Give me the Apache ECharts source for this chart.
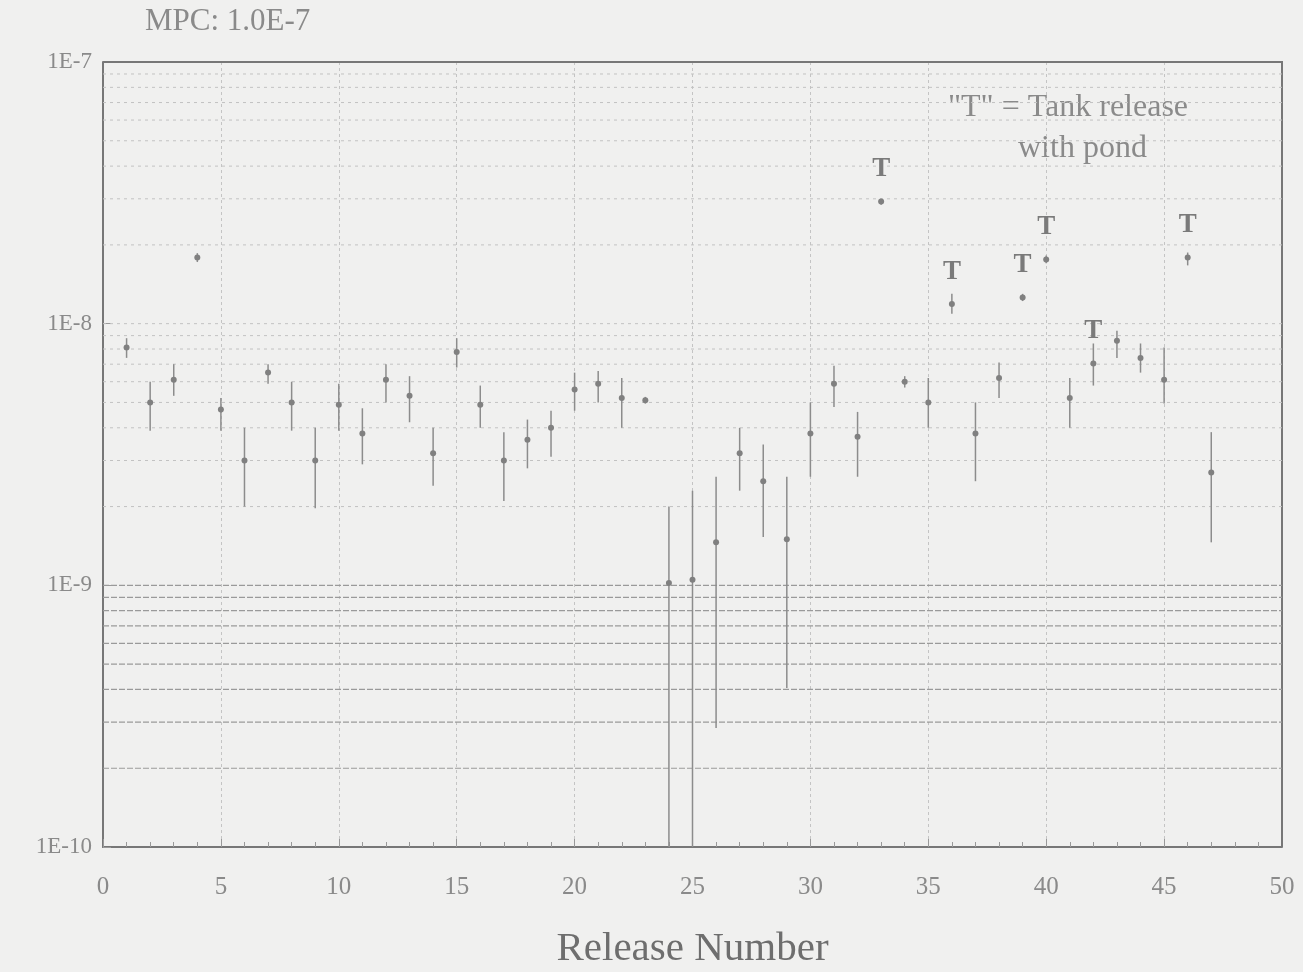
<!DOCTYPE html>
<html><head><meta charset="utf-8">
<script src="https://cdn.jsdelivr.net/npm/echarts@6/dist/echarts.min.js"></script>
<style>html,body{margin:0;padding:0;background:#f0f0ef;}#c{width:1303px;height:972px;}</style>
</head><body><div id="c"></div>
<script>
// ---- data ----
const releases = [1,2,3,4,5,6,7,8,9,10,11,12,13,14,15,16,17,18,19,20,21,22,23,24,25,26,27,28,29,30,31,32,33,34,35,36,37,38,39,40,41,42,43,44,45,46,47];
const values = [8.1e-9,5.0e-9,6.1e-9,1.79e-8,4.7e-9,3.0e-9,6.5e-9,5.0e-9,3.0e-9,4.9e-9,3.8e-9,6.1e-9,5.3e-9,3.2e-9,7.8e-9,4.9e-9,3.0e-9,3.6e-9,4.0e-9,5.6e-9,5.9e-9,5.2e-9,5.1e-9,1.02e-9,1.05e-9,1.46e-9,3.2e-9,2.5e-9,1.5e-9,3.8e-9,5.9e-9,3.7e-9,2.93e-8,6.0e-9,5.0e-9,1.19e-8,3.8e-9,6.2e-9,1.26e-8,1.76e-8,5.2e-9,7.05e-9,8.6e-9,7.4e-9,6.1e-9,1.79e-8,2.7e-9];
const lowErr = [7.4e-9,3.9e-9,5.3e-9,1.72e-8,3.9e-9,2.0e-9,5.9e-9,3.9e-9,1.97e-9,3.9e-9,2.9e-9,5.0e-9,4.2e-9,2.4e-9,6.8e-9,4.0e-9,2.1e-9,2.8e-9,3.1e-9,4.65e-9,5.0e-9,4.0e-9,4.95e-9,1e-10,1e-10,2.85e-10,2.3e-9,1.53e-9,4.05e-10,2.6e-9,4.8e-9,2.6e-9,2.85e-8,5.7e-9,4.0e-9,1.09e-8,2.5e-9,5.2e-9,1.22e-8,1.7e-8,4.0e-9,5.8e-9,7.4e-9,6.5e-9,4.95e-9,1.67e-8,1.46e-9];
const highErr = [8.8e-9,6.0e-9,7.0e-9,1.86e-8,5.2e-9,4.0e-9,7.0e-9,6.0e-9,4.0e-9,5.9e-9,4.75e-9,7.0e-9,6.3e-9,4.0e-9,8.8e-9,5.8e-9,3.85e-9,4.3e-9,4.65e-9,6.5e-9,6.6e-9,6.2e-9,5.25e-9,2.0e-9,2.3e-9,2.6e-9,4.0e-9,3.45e-9,2.6e-9,5.0e-9,6.9e-9,4.6e-9,3.0e-8,6.3e-9,6.2e-9,1.3e-8,5.0e-9,7.1e-9,1.3e-8,1.82e-8,6.2e-9,8.4e-9,9.4e-9,8.4e-9,8.1e-9,1.87e-8,3.85e-9];
const tankReleases = [33,36,39,40,42,46];
const xTicks = [0,5,10,15,20,25,30,35,40,45,50];
const yTickLabels = {'-7':'1E-7','-8':'1E-8','-9':'1E-9','-10':'1E-10'};

// horizontal grid values (decade subdivisions)
const hGrid = [];
for (let e = -10; e <= -8; e++) for (let m = 1; m <= 9; m++) { if (e === -10 && m === 1) continue; hGrid.push([m, e]); }

const serif = '"Liberation Serif","DejaVu Serif",serif';
const chart = echarts.init(document.getElementById('c'));
const errData = releases.map((r,i)=>[r, values[i], lowErr[i], highErr[i], tankReleases.indexOf(r)>=0?1:0]);

chart.setOption({
  backgroundColor: '#f0f0ef',
  animation: false,
  grid: {left:103, right:21, top:62, bottom:125, containLabel:false, outerBoundsMode:'none'},
  graphic: [
    {type:'text', left:145, top:6, style:{text:'MPC: 1.0E-7', font:'31px '+serif, fill:'#8a8a8a'}},
    {type:'text', left:948, top:92, style:{text:'"T" = Tank release', font:'32px '+serif, fill:'#8a8a8a'}},
    {type:'text', left:1018, top:133, style:{text:'with pond', font:'32px '+serif, fill:'#8a8a8a'}}
  ],
  xAxis: {
    type:'value', min:0, max:50, interval:5,
    name:'Release Number', nameLocation:'middle', nameGap:82,
    nameTextStyle:{fontFamily:serif, fontSize:41, color:'#6e6e6e'},
    axisLine:{show:true, onZero:false, lineStyle:{color:'#777', width:2}},
    axisTick:{show:true, inside:true, length:8, lineStyle:{color:'#999'}},
    minorTick:{show:true, splitNumber:5, length:5, lineStyle:{color:'#999'}},
    axisLabel:{fontFamily:serif, fontSize:25, color:'#8a8a8a', margin:28,
      formatter: v => xTicks.indexOf(v)>=0 ? String(v) : ''},
    splitLine:{show:true, lineStyle:{color:'#c4c4c4', width:1, type:[3,3]}}
  },
  yAxis: {
    type:'log', logBase:10, min:1e-10, max:1e-7,
    axisLine:{show:true, lineStyle:{color:'#777', width:2}},
    axisTick:{show:true, inside:true, length:8, lineStyle:{color:'#999'}},
    axisLabel:{fontFamily:serif, fontSize:23, color:'#8a8a8a', margin:11,
      formatter: v => yTickLabels[String(Math.round(Math.log10(v)))] || ''},
    splitLine:{show:false}
  },
  series: [
    { // frame top/right
      type:'custom', silent:true, data:[[0]],
      renderItem:(p,api)=>{
        const a=api.coord([0,1e-7]), b=api.coord([50,1e-7]), c=api.coord([50,1e-10]);
        return {type:'polyline', shape:{points:[a,b,c]}, style:{stroke:'#777', lineWidth:2, fill:null}};
      }
    },
    { // horizontal grid lines
      type:'custom', silent:true, data:hGrid, clip:true,
      renderItem:(p,api)=>{
        const m=api.value(0), e=api.value(1), v=m*Math.pow(10,e);
        const a=api.coord([0,v]), b=api.coord([50,v]);
        let st;
        if (e === -10 || (e === -9 && m === 1)) st={stroke:'#9a9a9a', lineWidth:1.2, lineDash:[6,2]};
        else st={stroke:'#c2c2c2', lineWidth:1, lineDash:[3,4]};
        return {type:'line', shape:{x1:a[0],y1:a[1],x2:b[0],y2:b[1]}, style:st};
      }
    },
    { // error bars, points, T labels
      type:'custom', data:errData, clip:true,
      renderItem:(p,api)=>{
        const x=api.value(0), v=api.value(1), lo=api.value(2), hi=api.value(3), t=api.value(4);
        const c=api.coord([x,v]), l=api.coord([x,lo]), h=api.coord([x,hi]);
        const ch=[
          {type:'line', shape:{x1:l[0],y1:l[1],x2:h[0],y2:h[1]}, style:{stroke:'#8c8c8c', lineWidth:1.5}},
          {type:'circle', shape:{cx:c[0],cy:c[1],r:3}, style:{fill:'#808080'}}
        ];
        if (t) ch.push({type:'text', x:c[0], y:c[1]-32, style:{text:'T', font:'bold 27px '+serif, fill:'#7a7a7a', align:'center', verticalAlign:'middle'}});
        return {type:'group', children:ch};
      }
    }
  ]
});
</script></body></html>
